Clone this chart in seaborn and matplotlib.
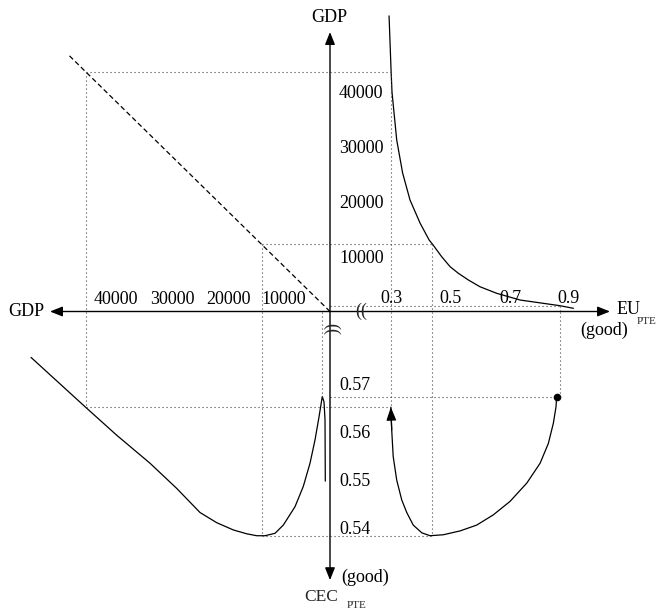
import matplotlib
matplotlib.use("Agg")
import matplotlib.pyplot as plt
import seaborn as sns
from matplotlib.transforms import offset_copy

# ---------------- data ----------------
GDP_TICKS = [10000, 20000, 30000, 40000]
GDP_TICK_LABELS = ["10000", "20000", "30000", "40000"]
EU_TICKS = [0.3, 0.5, 0.7, 0.9]
EU_TICK_LABELS = ["0.3", "0.5", "0.7", "0.9"]
CEC_TICKS = [0.54, 0.55, 0.56, 0.57]
CEC_TICK_LABELS = ["0.54", "0.55", "0.56", "0.57"]

# Quadrant I : GDP versus EU_PTE
q1_eu = [0.307, 0.314, 0.317, 0.333, 0.353, 0.378, 0.412, 0.443, 0.455, 0.485,
         0.514, 0.542, 0.576, 0.615, 0.672, 0.751, 0.886, 0.932]
q1_gdp = [53800, 43600, 39900, 31200, 25200, 20300, 16100, 13000, 12200, 10000,
          8150, 6950, 5730, 4510, 3310, 2090, 1060, 580]

# Quadrant II : 45 degree GDP mirror line
q2_gdp = [0, 46700]

# Quadrant III : CEC_PTE versus GDP
q3_gdp = [53390, 43750, 38090, 32140, 27380, 23210, 20230, 17270, 14880, 13090,
          11610, 9820, 8340, 6250, 4770, 3570, 2680, 1960, 1380, 1070, 890, 840]
q3_cec = [0.5753, 0.5651, 0.5592, 0.5534, 0.5482, 0.5432, 0.5411, 0.5396, 0.5388,
          0.5384, 0.5384, 0.5389, 0.5406, 0.5444, 0.5486, 0.5534, 0.5582, 0.5630,
          0.5672, 0.5661, 0.5624, 0.5497]

# Quadrant IV : CEC_PTE versus EU_PTE (path drawn from the dot to the arrow)
q4_eu = [0.875, 0.873, 0.864, 0.847, 0.819, 0.774, 0.717, 0.660, 0.604, 0.548,
         0.491, 0.446, 0.418, 0.389, 0.367, 0.350, 0.333, 0.321, 0.316, 0.313]
q4_cec = [0.5672, 0.5651, 0.5617, 0.5575, 0.5534, 0.5493, 0.5455, 0.5427, 0.5406,
          0.5394, 0.5386, 0.5384, 0.5390, 0.5406, 0.5432, 0.5458, 0.5499, 0.5548,
          0.5603, 0.5650]

# reference scenarios (projection lines)
ref_gdp = [43600, 12200]
ref_eu = [0.315, 0.454]
ref_cec = [0.5650, 0.5384]
end_gdp, end_eu, end_cec = 1060, 0.886, 0.5672
peak_gdp = 1380

# ---------------- axes ranges ----------------
GDP_UP_MAX = 56690
GDP_LEFT_MAX = 58930
EU_MIN, EU_MAX = 0.1068, 1.2458
CEC_MIN, CEC_MAX = 0.52303, 0.5848
GDP_LEFT_TIP, GDP_UP_TIP = 50000, 50860
EU_TIP, CEC_TIP = 1.056, 0.5292

sns.set_style("white")
plt.rcParams["font.family"] = ["Liberation Serif", "DejaVu Serif"]
plt.rcParams["mathtext.fontset"] = "stix"

W, H = 666, 610
fig = plt.figure(figsize=(W / 100, H / 100), dpi=100)
ox, oy = 330 / W, 1 - 311.5 / H

ax_tl = fig.add_axes([0, oy, ox, 1 - oy])
ax_tr = fig.add_axes([ox, oy, 1 - ox, 1 - oy])
ax_bl = fig.add_axes([0, 0, ox, oy])
ax_br = fig.add_axes([ox, 0, 1 - ox, oy])

for ax in (ax_tl, ax_tr, ax_bl, ax_br):
    ax.set_facecolor("none")
    for s in ax.spines.values():
        s.set_visible(False)
    ax.set_xticks([])
    ax.set_yticks([])

LINE = dict(color="black", linewidth=0.9)
DOT = dict(color="#444444", linewidth=0.8, linestyle=(0, (1, 2.6)))
TXT = dict(fontsize=13, color="black")

# curves
sns.lineplot(x=q1_eu, y=q1_gdp, sort=False, estimator=None, ax=ax_tr, **LINE)
sns.lineplot(x=q2_gdp, y=q2_gdp, sort=False, estimator=None, ax=ax_tl,
             color="black", linewidth=0.9, linestyle=(0, (4, 2.4)))
sns.lineplot(x=q3_gdp, y=q3_cec, sort=False, estimator=None, ax=ax_bl, **LINE)
sns.lineplot(x=q4_eu, y=q4_cec, sort=False, estimator=None, ax=ax_br, **LINE)
ax_br.scatter([q4_eu[0]], [q4_cec[0]], s=20, color="black", zorder=5)
ax_br.annotate("", xy=(q4_eu[-1], q4_cec[-1]), xytext=(q4_eu[-2], q4_cec[-2]),
               arrowprops=dict(arrowstyle="-|>,head_length=0.8,head_width=0.3",
                               mutation_scale=10, color="black", lw=0.9,
                               shrinkA=0, shrinkB=0))

# projection (dotted) lines
for g, e, c in zip(ref_gdp, ref_eu, ref_cec):
    ax_tl.plot([g, 0], [g, g], **DOT)
    ax_tr.plot([EU_MIN, e], [g, g], **DOT)
    ax_tl.plot([g, g], [g, 0], **DOT)
    ax_bl.plot([g, g], [CEC_MAX, c], **DOT)
    ax_bl.plot([g, 0], [c, c], **DOT)
    ax_br.plot([EU_MIN, e], [c, c], **DOT)
    ax_tr.plot([e, e], [g, 0], **DOT)
    ax_br.plot([e, e], [CEC_MAX, c], **DOT)
ax_tr.plot([EU_MIN, end_eu], [end_gdp, end_gdp], **DOT)
ax_tr.plot([end_eu, end_eu], [end_gdp, 0], **DOT)
ax_br.plot([end_eu, end_eu], [CEC_MAX, end_cec], **DOT)
ax_br.plot([EU_MIN, end_eu], [end_cec, end_cec], **DOT)
ax_bl.plot([peak_gdp, peak_gdp], [CEC_MAX, end_cec], **DOT)

# limits
ax_tl.set_xlim(GDP_LEFT_MAX, 0); ax_tl.set_ylim(0, GDP_UP_MAX)
ax_tr.set_xlim(EU_MIN, EU_MAX); ax_tr.set_ylim(0, GDP_UP_MAX)
ax_bl.set_xlim(GDP_LEFT_MAX, 0); ax_bl.set_ylim(CEC_MIN, CEC_MAX)
ax_br.set_xlim(EU_MIN, EU_MAX); ax_br.set_ylim(CEC_MIN, CEC_MAX)
for ax in (ax_tl, ax_tr, ax_bl, ax_br):
    ax.set_xlabel(""); ax.set_ylabel("")

# ticks
tk = dict(direction="inout", length=5.8, width=0.9, color="black",
          labelbottom=False, labelleft=False)
ax_tl.set_xticks(GDP_TICKS); ax_tl.tick_params(axis="x", **tk)
ax_tr.set_xticks(EU_TICKS); ax_tr.tick_params(axis="x", **tk)
ax_tr.set_yticks(GDP_TICKS); ax_tr.tick_params(axis="y", **tk)
ax_br.set_yticks(CEC_TICKS); ax_br.tick_params(axis="y", **tk)

# tick labels
for v, lab in zip(GDP_TICKS, GDP_TICK_LABELS):
    ax_tl.text(v, 0, lab, transform=offset_copy(ax_tl.transData, fig=fig, x=10, y=8, units="dots"),
               ha="center", va="baseline", **TXT)
    ax_tr.text(0, v, lab, transform=offset_copy(ax_tr.get_yaxis_transform(), fig=fig, x=9, y=0, units="dots"),
               ha="left", va="center_baseline", **TXT)
for v, lab in zip(EU_TICKS, EU_TICK_LABELS):
    ax_tr.text(v, 0, lab, transform=offset_copy(ax_tr.transData, fig=fig, x=5, y=8.5, units="dots"),
               ha="center", va="baseline", **TXT)
for v, lab in zip(CEC_TICKS, CEC_TICK_LABELS):
    ax_br.text(0, v, lab, transform=offset_copy(ax_br.get_yaxis_transform(), fig=fig, x=9, y=0, units="dots"),
               ha="left", va="center_baseline", **TXT)

# axis arrows
AR = dict(arrowstyle="-|>,head_length=0.75,head_width=0.3", mutation_scale=10,
          color="black", lw=1.0, shrinkA=0, shrinkB=0)
ax_tl.annotate("", xy=(GDP_LEFT_TIP, 0), xytext=(0, 0), arrowprops=AR, annotation_clip=False)
ax_tr.annotate("", xy=(EU_TIP, 0), xytext=(EU_MIN, 0), arrowprops=AR, annotation_clip=False)
ax_tr.annotate("", xy=(EU_MIN, GDP_UP_TIP), xytext=(EU_MIN, 0), arrowprops=AR, annotation_clip=False)
ax_br.annotate("", xy=(EU_MIN, CEC_TIP), xytext=(EU_MIN, CEC_MAX), arrowprops=AR, annotation_clip=False)

# axis breaks
def fx(px): return px / W
def fy(py): return 1 - py / H
fig.text(fx(361.5), fy(311), "((", ha="center", va="center", fontsize=13)
fig.text(fx(331), fy(329), "((", ha="center", va="center", fontsize=13, rotation=-90)

# axis titles
fig.text(fx(329), fy(17), "GDP", ha="center", va="center", **TXT)
fig.text(fx(26), fy(312), "GDP", ha="center", va="center", **TXT)
fig.text(fx(617), fy(309), "EU", ha="left", va="center", **TXT)
fig.text(fx(637), fy(321), "PTE", ha="left", va="center", fontsize=8)
fig.text(fx(604), fy(330), "(good)", ha="center", va="center", **TXT)
fig.text(fx(365), fy(577), "(good)", ha="center", va="center", **TXT)
fig.text(fx(321), fy(597), "CEC", ha="center", va="center", fontsize=12.5)
fig.text(fx(357), fy(606), "PTE", ha="center", va="center", fontsize=8)

fig.savefig("out.png", dpi=100)
